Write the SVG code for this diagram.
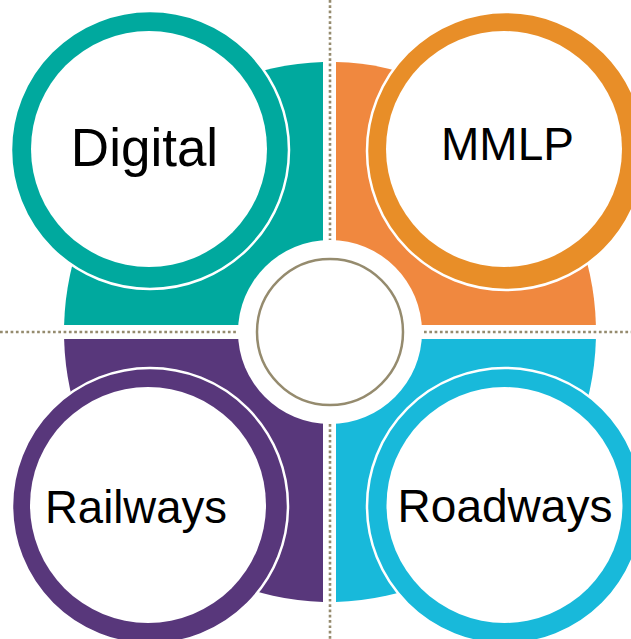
<svg xmlns="http://www.w3.org/2000/svg" width="631" height="639" viewBox="0 0 631 639">
<style>
.lbl{font-family:"Liberation Sans",Arial,sans-serif;fill:#000;text-anchor:middle}
.dot{stroke:#958b6e;stroke-width:2.6;stroke-dasharray:2.7 2.6;fill:none}
.ring{stroke:#fff;stroke-width:2.5}
.hole{fill:#fff}
</style>
<rect width="631" height="639" fill="#fff"/>
<g id="connectors">
<line class="dot" x1="330" y1="0" x2="330" y2="639"/>
<line class="dot" x1="0" y1="332" x2="631" y2="332"/>
</g>
<g id="quadrants">
<path d="M323,325 L323,62.1 A266 270 0 0 0 64.1,325 Z" fill="#00a99e"/>
<path d="M336,325 L336,62.1 A266 270 0 0 1 595.9,325 Z" fill="#f0883f"/>
<path d="M323,339 L64.1,339 A266 270 0 0 0 323,601.9 Z" fill="#58377b"/>
<path d="M336,339 L595.9,339 A266 270 0 0 1 336,601.9 Z" fill="#18b9da"/>
</g>
<g id="center">
<circle cx="330" cy="332" r="92" fill="#fff"/>
<circle cx="330" cy="332" r="73" fill="#fff" stroke="#958b6e" stroke-width="2.5"/>
</g>
<g id="digital">
<circle class="ring" cx="150" cy="150" r="139" fill="#00a99e"/>
<circle class="hole" cx="149" cy="149" r="118"/>
<text class="lbl" x="144.5" y="166" font-size="53">Digital</text>
</g>
<g id="mmlp">
<circle class="ring" cx="506" cy="151" r="139" fill="#e88e28"/>
<circle class="hole" cx="504" cy="149" r="118"/>
<text class="lbl" x="507.5" y="160" font-size="46">MMLP</text>
</g>
<g id="railways">
<circle class="ring" cx="150" cy="506" r="138" fill="#58377b"/>
<circle class="hole" cx="148" cy="505" r="118"/>
<text class="lbl" x="136" y="523" font-size="45.5">Railways</text>
</g>
<g id="roadways">
<circle class="ring" cx="505" cy="506" r="138" fill="#18b9da"/>
<circle class="hole" cx="504.5" cy="505" r="118"/>
<text class="lbl" x="505" y="522" font-size="46">Roadways</text>
</g>
</svg>
